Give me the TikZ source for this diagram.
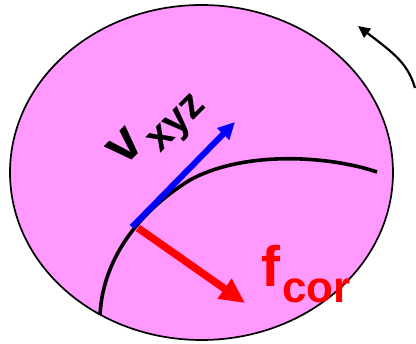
\documentclass[tikz,border=0pt]{standalone}
\usepackage{fontspec}
\setmainfont{Liberation Sans}
\usepackage{xcolor}
\usepackage{tikz}
\usetikzlibrary{arrows.meta,positioning,calc}
\definecolor{planet}{RGB}{255,153,255}
\tikzset{
  globe/.style={draw=black, fill=planet, line width=1.7pt},
  path/.style={draw=black, line width=3.6pt},
  velarr/.style={-{Triangle[length=17pt,width=16pt]}, blue, line width=6pt},
  corarr/.style={-{Triangle[length=25pt,width=23pt]}, red, line width=7.5pt},
  spinarr/.style={-{Triangle[length=12pt,width=11pt]}, black, line width=2.2pt},
  lbl/.style={inner sep=0pt, anchor=base west, font=\bfseries},
}

\begin{document}
\begin{tikzpicture}[x=1pt,y=1pt]
  \useasboundingbox (0,0) rectangle (416,344);
  % rotating body
  \draw[globe] (201.5,171.5) ellipse [x radius=191.5, y radius=167.5];
  % trajectory
  \coordinate (pstart) at (100,29);
  \coordinate (pmid) at (190,164);
  \coordinate (pend) at (377,172);
  \draw[path] (pstart) .. controls (103,90) and (145,136.5) .. (pmid)
    .. controls (245,194) and (330,188) .. (pend);
  % velocity and coriolis force
  \coordinate (vstart) at (132,117);
  \coordinate (vtip) at (235,222);
  \draw[velarr] (vstart) -- (vtip);
  \coordinate (fstart) at (138,116);
  \coordinate (ftip) at (245,41);
  \draw[corarr] (fstart) -- (ftip);
  \node[lbl, rotate=45] (vlabel) at (124,176)
    {\fontsize{55}{55}\selectfont v\hspace{5pt}\raisebox{-16pt}{\fontsize{41}{41}\selectfont xyz}};
  \node[lbl, red] (flabel) at (261,57)
    {\fontsize{57}{57}\selectfont f\hspace{2pt}\raisebox{-16pt}{\fontsize{44}{44}\selectfont cor}};
  % sense of rotation
  \coordinate (spinstart) at (415,256);
  \coordinate (spintip) at (358,318);
  \draw[spinarr] (spinstart) .. controls (408,280) and (395,290) .. (spintip);
\end{tikzpicture}
\end{document}
